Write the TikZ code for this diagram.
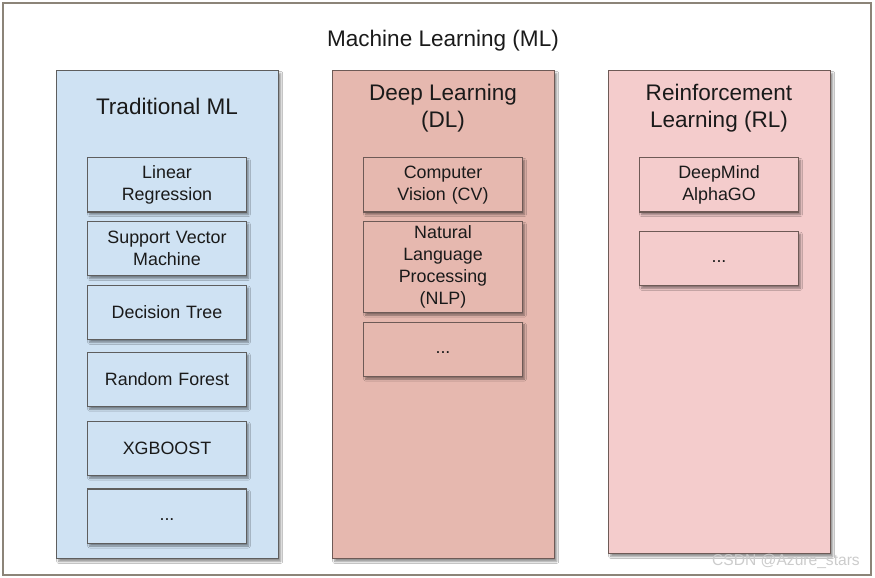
\documentclass[tikz,border=0pt]{standalone}
\usepackage{fontspec}
\setmainfont{Liberation Sans}
\usepackage{xcolor}
\usetikzlibrary{positioning,shadows.blur}
\definecolor{tradblue}{HTML}{CFE2F3}
\definecolor{deepred}{HTML}{E6B8AF}
\definecolor{rlpink}{HTML}{F4CCCC}
\definecolor{boxgray}{HTML}{5E5E5E}
\definecolor{boxbrown}{HTML}{6E5A56}
\definecolor{framegray}{HTML}{8C8478}
\definecolor{textdark}{HTML}{1A1A1A}

\begin{document}
\begin{tikzpicture}[
    x=0.75pt, y=-0.75pt,
    every node/.style={align=center, text=textdark},
    shade/.style={blur shadow={shadow xshift=1.5pt, shadow yshift=-2pt, shadow blur radius=1.5pt, shadow opacity=45}},
    mlframe/.style={rectangle, draw=framegray, line width=1.5pt, fill=white, minimum width=651pt, minimum height=429pt},
    colbox/.style={rectangle, draw=boxgray, line width=1.1pt, minimum width=166.5pt, minimum height=366pt, anchor=north west, shade},
    itembox/.style={rectangle, draw=boxgray, line width=1.1pt, minimum width=119pt, text width=112pt, minimum height=40.6pt, inner sep=1pt, font=\fontsize{13.4}{16.5}\selectfont, shade},
    titletext/.style={font=\fontsize{16.9}{20.2}\selectfont},
    watermark/.style={font=\fontsize{11.7}{14}\selectfont, text=gray!40}
]
\useasboundingbox (0,0) rectangle (875,578);

\node[mlframe] (ml) at (437,289) {};
\node[titletext] (mltitle) at (443,41) {Machine Learning (ML)};

% three families
\node[colbox, fill=tradblue] (trad) at (56,70) {};
\node[colbox, fill=deepred, draw=boxbrown] (deep) at (332,70) {};
\node[colbox, fill=rlpink, draw=boxbrown, minimum height=362.25pt] (rl) at (608,70) {};

\node[titletext] (tradtitle) at (167,106) {Traditional ML};
\node[titletext] (deeptitle) at (443,108) {Deep Learning\\(DL)};
\node[titletext] (rltitle) at (719,108) {Reinforcement\\Learning (RL)};

% traditional ML
\node[itembox, fill=tradblue, anchor=north] (linreg) at (167,157) {Linear\\Regression};
\node[itembox, fill=tradblue, below=6.2pt of linreg] (svm) {Support Vector\\Machine};
\node[itembox, fill=tradblue, below=6.2pt of svm] (dtree) {Decision Tree};
\node[itembox, fill=tradblue, below=8.5pt of dtree] (rforest) {Random Forest};
\node[itembox, fill=tradblue, below=10pt of rforest] (xgb) {XGBOOST};
\node[itembox, fill=tradblue, below=9.2pt of xgb] (tradmore) {\strut...};

% deep learning
\node[itembox, fill=deepred, draw=boxbrown, anchor=north] (cv) at (443,157) {Computer\\Vision (CV)};
\node[itembox, fill=deepred, draw=boxbrown, minimum height=68.2pt, below=6.2pt of cv] (nlp) {Natural\\Language\\Processing\\(NLP)};
\node[itembox, fill=deepred, draw=boxbrown, below=6.2pt of nlp] (deepmore) {\strut...};

% reinforcement learning
\node[itembox, fill=rlpink, draw=boxbrown, anchor=north] (alphago) at (719,157) {DeepMind\\AlphaGO};
\node[itembox, fill=rlpink, draw=boxbrown, below=13.6pt of alphago] (rlmore) {\strut...};

\node[watermark] (mark) at (786,561) {CSDN @Azure\_stars};

\end{tikzpicture}
\end{document}
